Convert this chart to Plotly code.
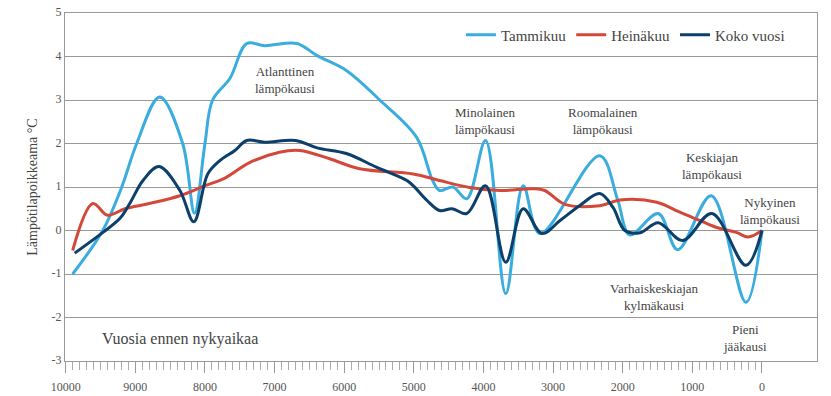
import plotly.graph_objects as go

# ---- data (years before present, temperature anomaly °C) ----
tammi_years = [9900, 9468, 9195, 8980, 8650, 8320, 8150, 8000, 7890, 7640, 7400, 7140, 6680,
               6390, 5970, 5490, 4960, 4730, 4630, 4440, 4240, 3970, 3680, 3430, 3190, 2330,
               2070, 1900, 1490, 1210, 730, 230, 0]
tammi_vals = [-1.0, 0.0, 1.0, 2.0, 3.07, 2.0, 0.4, 2.0, 3.0, 3.5, 4.3, 4.25, 4.3,
              4.02, 3.68, 3.0, 2.14, 1.15, 0.92, 1.0, 0.73, 2.07, -1.45, 1.03, -0.07, 1.72,
              0.69, -0.1, 0.39, -0.44, 0.8, -1.65, 0.0]

heina_years = [9900, 9610, 9400, 9150, 8800, 8360, 8000, 7720, 7360, 6930, 6640, 6210, 5780,
               5010, 4630, 4200, 3760, 3290, 3120, 2830, 2330, 2040, 1510, 1180, 890, 650,
               360, 200, 0]
heina_vals = [-0.46, 0.62, 0.35, 0.5, 0.62, 0.8, 1.03, 1.2, 1.56, 1.8, 1.84, 1.65, 1.42,
              1.3, 1.15, 0.99, 0.92, 0.96, 0.92, 0.6, 0.57, 0.7, 0.65, 0.42, 0.23, 0.07,
              -0.05, -0.15, 0.0]

koko_years = [9870, 9470, 9220, 9080, 8890, 8660, 8360, 8160, 7960, 7790, 7570, 7400, 7140,
              6700, 6390, 5970, 5530, 5100, 5010, 4810, 4630, 4450, 4240, 3970, 3680, 3430,
              3160, 2900, 2620, 2330, 2140, 1970, 1750, 1490, 1140, 720, 230, 0]
koko_vals = [-0.52, -0.05, 0.28, 0.62, 1.15, 1.47, 0.92, 0.2, 1.3, 1.6, 1.84, 2.07, 2.03,
             2.07, 1.9, 1.77, 1.45, 1.15, 1.03, 0.69, 0.46, 0.5, 0.39, 1.03, -0.73, 0.5,
             -0.07, 0.23, 0.57, 0.85, 0.53, 0.0, -0.05, 0.18, -0.23, 0.39, -0.8, 0.0]

major_ticks = [10000, 9000, 8000, 7000, 6000, 5000, 4000, 3000, 2000, 1000, 0]
minor_ticks = list(range(0, 10001, 100))
y_ticks = [-3, -2, -1, 0, 1, 2, 3, 4, 5]

periods = [
    ("Atlanttinen<br>lämpökausi", 6853, 3.46),
    ("Minolainen<br>lämpökausi", 3980, 2.52),
    ("Roomalainen<br>lämpökausi", 2284, 2.52),
    ("Keskiajan<br>lämpökausi", 718, 1.49),
    ("Nykyinen<br>lämpökausi", -115, 0.44),
    ("Varhaiskeskiajan<br>kylmäkausi", 1537, -1.52),
    ("Pieni<br>jääkausi", 244, -2.46),
]

C_JAN = "#3AADDE"
C_JUL = "#D4483A"
C_YEAR = "#0D3F6B"
FONT = "Liberation Serif"

fig = go.Figure()
fig.add_trace(go.Scatter(x=tammi_years, y=tammi_vals, mode="lines", name="Tammikuu",
                         line=dict(color=C_JAN, width=3, shape="spline", smoothing=1)))
fig.add_trace(go.Scatter(x=heina_years, y=heina_vals, mode="lines", name="Heinäkuu",
                         line=dict(color=C_JUL, width=3, shape="spline", smoothing=1)))
fig.add_trace(go.Scatter(x=koko_years, y=koko_vals, mode="lines", name="Koko vuosi",
                         line=dict(color=C_YEAR, width=3, shape="spline", smoothing=1)))

for txt, x, y in periods:
    fig.add_annotation(x=x, y=y, text=txt, showarrow=False, xanchor="center",
                       yanchor="middle", align="center",
                       font=dict(family=FONT, size=13, color="#444"))

fig.add_annotation(x=8362, y=-2.5, text="Vuosia ennen nykyaikaa", showarrow=False,
                   xanchor="center", font=dict(family=FONT, size=16, color="#444"))

fig.update_layout(
    width=831, height=396,
    margin=dict(l=65, r=14, t=13, b=35),
    paper_bgcolor="white", plot_bgcolor="white",
    font=dict(family=FONT, color="#444"),
    showlegend=True,
    legend=dict(orientation="h", x=0.964, xanchor="right", y=0.937, yanchor="middle",
                font=dict(family=FONT, size=15, color="#444"), bgcolor="rgba(0,0,0,0)",
                itemwidth=30, tracegroupgap=0),
    xaxis=dict(range=[10010, -790], tickmode="array", tickvals=major_ticks,
               ticktext=[str(v) for v in major_ticks], ticks="outside", ticklen=11,
               tickcolor="#999", tickwidth=1, showgrid=False, zeroline=False,
               showline=True, linecolor="#999", linewidth=1, mirror=True,
               automargin=False, ticklabelstandoff=4,
               tickfont=dict(family=FONT, size=12, color="#555"),
               minor=dict(tickmode="array", tickvals=minor_ticks, ticks="outside",
                          ticklen=8, tickcolor="#aaa", tickwidth=1, showgrid=False)),
    yaxis=dict(range=[-3, 5], tickmode="array", tickvals=y_ticks,
               ticktext=[str(v) for v in y_ticks], showgrid=True,
               gridcolor="#999", gridwidth=1, zeroline=False, showline=True,
               linecolor="#999", linewidth=1, mirror=True, ticks="",
               automargin=False, ticklabelshift=-1,
               tickfont=dict(family=FONT, size=12, color="#555"),
               title=dict(text="Lämpötilapoikkeama °C", standoff=10,
                          font=dict(family=FONT, size=14, color="#444"))),
)

# remove the default 8px page margin so the 831x396 figure fills the window exactly
fig.write_html("out.html", config={"displayModeBar": False},
               post_script="document.body.style.margin='0';")
